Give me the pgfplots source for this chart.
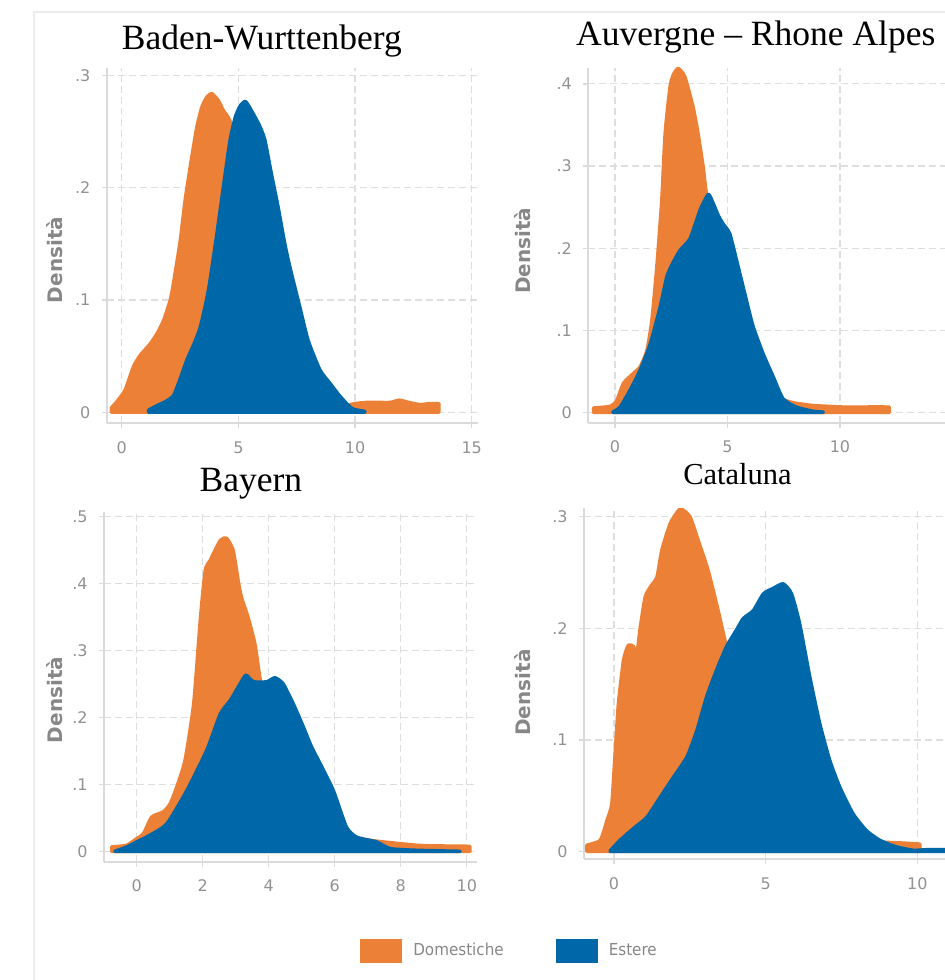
\documentclass[border=0pt]{standalone}
\usepackage{pgfplots}
\pgfplotsset{compat=1.18}
\usepackage{fontspec}
\setmainfont{Liberation Serif}
\newfontfamily\djv{DejaVu Sans}
\newfontfamily\legfont[FakeStretch=0.92]{DejaVu Sans}

\definecolor{dom}{RGB}{236,128,54}
\definecolor{est}{RGB}{0,104,168}
\definecolor{axgray}{RGB}{218,218,218}
\definecolor{gridgray}{RGB}{222,222,222}
\definecolor{tickgray}{RGB}{145,145,145}
\definecolor{labgray}{RGB}{135,135,135}
\definecolor{frame}{RGB}{236,236,236}

\pgfplotsset{
  dens/.style={
    scale only axis,
    axis x line*=bottom, axis y line*=left,
    axis line style={-, draw=axgray, line width=1pt},
    tick align=outside, major tick length=2.5pt,
    tick style={draw=axgray, line width=0.7pt},
    grid=major,
    major grid style={draw=gridgray, dash pattern=on 3.5pt off 2pt, line width=0.6pt},
    ticklabel style={font=\fontsize{8}{9}\selectfont\djv, text=tickgray},
    yticklabel style={inner sep=0pt, xshift=-5.5pt},
    xticklabel style={inner sep=0pt, yshift=-6.5pt},
    ylabel={Densità},
    ylabel style={font=\fontsize{10}{12}\selectfont\djv\bfseries, text=labgray, anchor=center},
    title style={anchor=base, inner sep=0pt, font=\fontsize{17.75}{20}\selectfont},
  },
  dom/.style={fill=dom, draw=dom, line width=1.5pt, line join=round, smooth, tension=0.35},
  est/.style={fill=est, draw=est, line width=1.5pt, line join=round, smooth, tension=0.35},
}

\begin{document}
\begin{tikzpicture}
\useasboundingbox (0,0) rectangle (472.5pt,490pt);
\clip (0,0) rectangle (472.5pt,490pt);
\draw[frame, line width=1pt] (17pt,-5pt) -- (17pt,484.15pt) -- (480pt,484.15pt);

% Baden-Wurttenberg
\begin{axis}[dens, at={(53.35pt,278.5pt)}, anchor=south west,
  width=185.65pt, height=177.35pt,
  xmin=-0.643, xmax=15.27, ymin=-0.00953, ymax=0.3063,
  xtick={0,5,10,15}, xticklabels={0,5,10,15},
  ytick={0,0.1,0.2,0.3}, yticklabels={0,.1,.2,.3},
  ylabel style={at={(axis description cs:-0.1406,0.4595)}},
  title={Baden-Wurttenberg}, title style={at={(axis description cs:0.418,1.0186)}}]
\addplot[dom] coordinates {
(-0.45,0.004) (-0.2,0.01) (0.14,0.02) (0.5,0.041) (0.79,0.051) (1.21,0.061) (1.5,0.07)
(1.79,0.082) (2.07,0.1) (2.21,0.115) (2.5,0.153) (2.71,0.189) (2.93,0.219) (3.21,0.254)
(3.43,0.272) (3.65,0.281) (3.86,0.284) (4.14,0.278) (4.36,0.269) (4.64,0.26) (5.0,0.235)
(5.5,0.19) (6.0,0.14) (6.5,0.095) (7.0,0.06) (7.5,0.035) (8.0,0.02) (8.5,0.012) (9.0,0.008)
(9.5,0.006) (10.0,0.008) (10.5,0.009) (11.0,0.009) (11.5,0.009) (11.9,0.011) (12.3,0.009)
(12.8,0.007) (13.2,0.008) (13.6,0.008)
} \closedcycle;
\addplot[est] coordinates {
(1.14,0.002) (1.5,0.006) (1.9,0.01) (2.21,0.015) (2.5,0.03) (2.79,0.047) (3.07,0.06)
(3.36,0.076) (3.71,0.109) (4.07,0.159) (4.43,0.213) (4.64,0.243) (4.86,0.263) (5.07,0.273)
(5.29,0.277) (5.45,0.273) (5.64,0.266) (5.9,0.256) (6.14,0.243) (6.4,0.215) (6.71,0.183)
(7.0,0.15) (7.21,0.13) (7.64,0.094) (8.0,0.064) (8.5,0.038) (8.93,0.026) (9.3,0.016)
(9.64,0.008) (9.93,0.003) (10.43,0.001)
} \closedcycle;
\end{axis}

% Auvergne - Rhone Alpes
\begin{axis}[dens, at={(294.15pt,278.65pt)}, anchor=south west,
  width=185.65pt, height=177.35pt,
  xmin=-1.187, xmax=15.32, ymin=-0.01217, ymax=0.4193,
  xtick={0,5,10}, xticklabels={0,5,10},
  ytick={0,0.1,0.2,0.3,0.4}, yticklabels={0,.1,.2,.3,.4},
  ylabel style={at={(axis description cs:-0.177,0.4846)}},
  title={Auvergne – Rhone Alpes}, title style={at={(axis description cs:0.451,1.030)}}]
\addplot[dom] coordinates {
(-0.96,0.006) (-0.22,0.008) (0.07,0.015) (0.37,0.036) (0.81,0.048) (1.11,0.056) (1.41,0.076)
(1.63,0.113) (1.85,0.178) (2.07,0.259) (2.22,0.34) (2.44,0.397) (2.6,0.412) (2.81,0.419)
(3.11,0.409) (3.48,0.372) (3.7,0.34) (3.93,0.299) (4.07,0.267) (4.5,0.2) (5.0,0.15)
(5.5,0.1) (6.0,0.065) (6.5,0.04) (7.0,0.025) (7.5,0.016) (8.0,0.012) (8.8,0.009)
(9.5,0.008) (10.3,0.007) (11.0,0.007) (11.6,0.0075) (12.2,0.007)
} \closedcycle;
\addplot[est] coordinates {
(-0.1,0.001) (0.22,0.007) (0.67,0.028) (1.11,0.052) (1.56,0.084) (2.0,0.129) (2.3,0.166)
(2.56,0.182) (2.89,0.198) (3.33,0.212) (3.78,0.247) (4.15,0.266) (4.37,0.255) (4.6,0.24)
(4.81,0.23) (5.11,0.218) (5.41,0.186) (5.85,0.137) (6.15,0.105) (6.59,0.072) (7.04,0.044)
(7.48,0.017) (8.07,0.007) (8.81,0.002) (9.26,0.001)
} \closedcycle;
\end{axis}

% Bayern
\begin{axis}[dens, at={(52pt,59.15pt)}, anchor=south west,
  width=186.5pt, height=175pt,
  xmin=-0.99, xmax=10.31, ymin=-0.0149, ymax=0.5075,
  xtick={0,2,4,6,8,10}, xticklabels={0,2,4,6,8,10},
  ytick={0,0.1,0.2,0.3,0.4,0.5}, yticklabels={0,.1,.2,.3,.4,.5},
  ylabel style={at={(axis description cs:-0.1327,0.462)}},
  title={Bayern}, title style={at={(axis description cs:0.394,1.024)}},
  legend columns=2,
  legend style={draw=none, fill=none, inner sep=0pt,
    at={(axis description cs:0.686,-0.255)}, anchor=west,
    nodes={inner sep=0pt, font=\fontsize{8.25}{10}\selectfont\legfont, text=labgray},
    /tikz/every odd column/.append style={column sep=5.5pt},
    /tikz/every even column/.append style={column sep=26pt}},
  legend image code/.code={\fill[#1, draw=none] (0pt,-6pt) rectangle (21pt,6pt);}]
\addplot[dom] coordinates {
(-0.76,0.0075) (-0.3,0.01) (0,0.02) (0.2,0.027) (0.45,0.052) (0.81,0.06) (1.01,0.072)
(1.21,0.097) (1.46,0.137) (1.72,0.221) (1.92,0.346) (2.07,0.42) (2.22,0.435) (2.53,0.465)
(2.73,0.468) (2.93,0.45) (3.08,0.405) (3.18,0.38) (3.38,0.35) (3.59,0.31) (3.74,0.26)
(4.0,0.2) (4.5,0.12) (5.0,0.07) (5.5,0.04) (6.0,0.025) (6.5,0.019) (6.77,0.019) (7.47,0.015)
(8.48,0.01) (9.2,0.009) (10.0,0.0085) (10.1,0.008)
} \closedcycle;
\addlegendentry{Domestiche}
\addplot[est] coordinates {
(-0.66,0.001) (-0.3,0.0075) (0,0.015) (0.4,0.025) (0.91,0.042) (1.52,0.092) (2.12,0.152)
(2.53,0.206) (2.83,0.226) (3.13,0.251) (3.31,0.264) (3.54,0.254) (3.94,0.254) (4.19,0.26)
(4.44,0.251) (4.75,0.221) (5.05,0.187) (5.3,0.157) (5.56,0.132) (5.96,0.092) (6.36,0.037)
(6.67,0.022) (7.27,0.015) (7.68,0.005) (8.48,0.0025) (9.8,0.001)
} \closedcycle;
\addlegendentry{Estere}
\end{axis}

% Cataluna
\begin{axis}[dens, at={(292pt,60.35pt)}, anchor=south west,
  width=186.5pt, height=175.5pt,
  xmin=-0.989, xmax=11.31, ymin=-0.0068, ymax=0.3074,
  xtick={0,5,10}, xticklabels={0,5,10},
  ytick={0,0.1,0.2,0.3}, yticklabels={0,.1,.2,.3},
  ylabel style={at={(axis description cs:-0.165,0.475)}},
  title={Cataluna}, title style={at={(axis description cs:0.4115,1.035)}, font=\fontsize{15.25}{18}\selectfont}]
\addplot[dom] coordinates {
(-0.9,0.006) (-0.46,0.0104) (-0.24,0.028) (-0.08,0.043) (0.03,0.088) (0.14,0.133) (0.31,0.172)
(0.47,0.185) (0.64,0.184) (0.75,0.178) (0.86,0.201) (1.02,0.228) (1.19,0.237) (1.41,0.246)
(1.57,0.27) (1.85,0.294) (2.18,0.307) (2.51,0.3) (2.78,0.279) (3.11,0.252) (3.44,0.216)
(3.71,0.184) (4.0,0.15) (5.0,0.09) (6.0,0.05) (7.0,0.025) (8.0,0.013) (8.77,0.009)
(9.5,0.008) (10.09,0.007)
} \closedcycle;
\addplot[est] coordinates {
(-0.13,0.001) (0.2,0.0105) (0.64,0.021) (1.08,0.031) (1.52,0.049) (1.96,0.067) (2.4,0.085)
(2.73,0.109) (3.05,0.139) (3.38,0.163) (3.71,0.184) (4.04,0.199) (4.26,0.209) (4.59,0.216)
(4.92,0.231) (5.25,0.236) (5.58,0.24) (5.86,0.231) (6.13,0.204) (6.46,0.157) (6.79,0.115)
(7.12,0.082) (7.45,0.058) (7.89,0.034) (8.33,0.019) (8.77,0.0104) (9.32,0.0045)
(9.87,0.0015) (10.3,0.002) (11.0,0.002)
} \closedcycle;
\end{axis}
\end{tikzpicture}
\end{document}
